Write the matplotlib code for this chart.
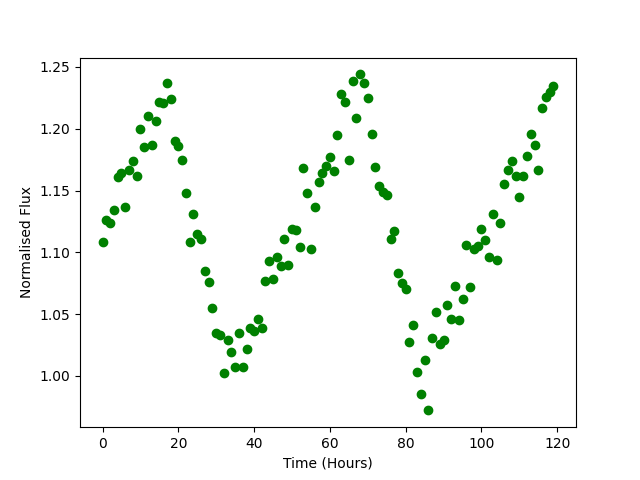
import matplotlib
matplotlib.use("Agg")
import matplotlib.pyplot as plt
import numpy as np

hours = list(range(120))
flux = [1.108, 1.126, 1.124, 1.134, 1.161, 1.164, 1.137, 1.167, 1.174, 1.162,
        1.200, 1.185, 1.210, 1.187, 1.206, 1.222, 1.221, 1.237, 1.224, 1.190,
        1.186, 1.175, 1.148, 1.108, 1.131, 1.115, 1.111, 1.085, 1.076, 1.055,
        1.035, 1.033, 1.002, 1.029, 1.019, 1.007, 1.035, 1.007, 1.022, 1.039,
        1.036, 1.046, 1.039, 1.077, 1.093, 1.078, 1.096, 1.089, 1.111, 1.090,
        1.119, 1.118, 1.104, 1.168, 1.148, 1.103, 1.137, 1.157, 1.164, 1.170,
        1.177, 1.166, 1.195, 1.228, 1.222, 1.175, 1.239, 1.209, 1.244, 1.237,
        1.225, 1.196, 1.169, 1.154, 1.149, 1.146, 1.111, 1.117, 1.083, 1.075,
        1.070, 1.027, 1.041, 1.003, 0.985, 1.013, 0.972, 1.031, 1.052, 1.026,
        1.029, 1.057, 1.046, 1.073, 1.045, 1.062, 1.106, 1.072, 1.103, 1.105,
        1.119, 1.110, 1.096, 1.131, 1.094, 1.124, 1.155, 1.167, 1.174, 1.162,
        1.145, 1.162, 1.178, 1.196, 1.187, 1.167, 1.217, 1.226, 1.230, 1.235]

fig, ax = plt.subplots(figsize=(6.4, 4.8), dpi=100)
ax.plot(hours, flux, 'o', color='green')
ax.set_xlabel('Time (Hours)')
ax.set_ylabel('Normalised Flux')
fig.savefig('out.png')
